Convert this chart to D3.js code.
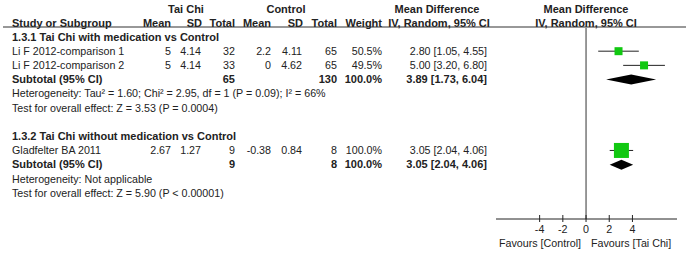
<!DOCTYPE html>
<html>
<head>
<meta charset="utf-8">
<script src="https://cdn.jsdelivr.net/npm/d3@7"></script>
<style>
  body { margin: 0; background: #fff; }
  svg text { font-family: Arial, "Liberation Sans", sans-serif; font-size: 10.7px; fill: #222; }
  .b { font-weight: bold; font-size: 11px; }
</style>
</head>
<body>
<div id="chart"></div>
<script>
// study rows
var studyNames = ["Li F 2012-comparison 1", "Li F 2012-comparison 2", "Gladfelter BA 2011"];
var studyGroup = [0, 0, 1];
var tcMean = ["5", "5", "2.67"];
var tcSD = ["4.14", "4.14", "1.27"];
var tcN = ["32", "33", "9"];
var ctMean = ["2.2", "0", "-0.38"];
var ctSD = ["4.11", "4.62", "0.84"];
var ctN = ["65", "65", "8"];
var weights = ["50.5%", "49.5%", "100.0%"];
var md = [2.80, 5.00, 3.05];
var mdLo = [1.05, 3.20, 2.04];
var mdHi = [4.55, 6.80, 4.06];
var boxSize = [8, 8, 15];

// subgroups
var groupTitles = ["1.3.1 Tai Chi with medication vs Control", "1.3.2 Tai Chi without medication vs Control"];
var subTcN = ["65", "9"];
var subCtN = ["130", "8"];
var subWeight = ["100.0%", "100.0%"];
var subMd = [3.89, 3.05];
var subLo = [1.73, 2.04];
var subHi = [6.04, 4.06];
var heterogeneity = ["Heterogeneity: Tau\u00b2 = 1.60; Chi\u00b2 = 2.95, df = 1 (P = 0.09); I\u00b2 = 66%", "Heterogeneity: Not applicable"];
var overall = ["Test for overall effect: Z = 3.53 (P = 0.0004)", "Test for overall effect: Z = 5.90 (P < 0.00001)"];

var axisTicks = [-4, -2, 0, 2, 4];

var W = 689, H = 253;
var svg = d3.select("#chart").append("svg").attr("width", W).attr("height", H);

var row = d3.scaleLinear().domain([0, 11]).range([37, 193]);
var x = d3.scaleLinear().domain([-7.76, 7.84]).range([496, 677]);

function txt(xp, yp, s, anchor, bold) {
    svg.append("text").attr("x", xp).attr("y", yp).attr("dy", "0.35em")
        .attr("text-anchor", anchor || "start").attr("class", bold ? "b" : null).text(s);
}

// column right edges
var cMean = 171, cSD = 201, cTot = 235, kMean = 271, kSD = 302, kTot = 337, cW = 382, cCI = 487;

// headers
txt(186, 9, "Tai Chi", "middle", true);
txt(286, 9, "Control", "middle", true);
txt(437, 9, "Mean Difference", "middle", true);
txt(586, 9, "Mean Difference", "middle", true);
txt(12, 23, "Study or Subgroup", "start", true);
txt(cMean, 23, "Mean", "end", true);
txt(cSD + 1, 23, "SD", "end", true);
txt(cTot, 23, "Total", "end", true);
txt(kMean, 23, "Mean", "end", true);
txt(kSD + 1, 23, "SD", "end", true);
txt(kTot, 23, "Total", "end", true);
txt(cW, 23, "Weight", "end", true);
txt(439, 23, "IV, Random, 95% CI", "middle", true);
txt(586, 23, "IV, Random, 95% CI", "middle", true);

svg.append("line").attr("x1", 3).attr("x2", 686).attr("y1", 27).attr("y2", 27)
    .attr("stroke", "#333").attr("stroke-width", 1.2);

function fmt(v) { return d3.format(".2f")(v); }

// zero line
svg.append("line").attr("x1", x(0)).attr("x2", x(0)).attr("y1", 28).attr("y2", 219)
    .attr("stroke", "#333").attr("stroke-width", 1);

var groupStart = [0, 7];
groupTitles.forEach(function(g, gi) {
    var r0 = groupStart[gi];
    txt(12, row(r0), g, "start", true);
    var idx = d3.range(studyNames.length).filter(function(i) { return studyGroup[i] === gi; });
    idx.forEach(function(i, k) {
        var yy = row(r0 + 1 + k);
        txt(12, yy, studyNames[i]);
        txt(cMean, yy, tcMean[i], "end");
        txt(cSD, yy, tcSD[i], "end");
        txt(cTot, yy, tcN[i], "end");
        txt(kMean, yy, ctMean[i], "end");
        txt(kSD, yy, ctSD[i], "end");
        txt(kTot, yy, ctN[i], "end");
        txt(cW, yy, weights[i], "end");
        txt(cCI, yy, fmt(md[i]) + " [" + fmt(mdLo[i]) + ", " + fmt(mdHi[i]) + "]", "end");
        svg.append("line").attr("x1", x(mdLo[i])).attr("x2", x(mdHi[i])).attr("y1", yy).attr("y2", yy)
            .attr("stroke", "#222").attr("stroke-width", 1);
        svg.append("rect").attr("x", x(md[i]) - boxSize[i] / 2).attr("y", yy - boxSize[i] / 2)
            .attr("width", boxSize[i]).attr("height", boxSize[i]).attr("fill", "#11c811");
    });
    var ys = row(r0 + 1 + idx.length);
    txt(12, ys, "Subtotal (95% CI)", "start", true);
    txt(cTot, ys, subTcN[gi], "end", true);
    txt(kTot, ys, subCtN[gi], "end", true);
    txt(cW, ys, subWeight[gi], "end", true);
    txt(cCI, ys, fmt(subMd[gi]) + " [" + fmt(subLo[gi]) + ", " + fmt(subHi[gi]) + "]", "end", true);
    svg.append("path")
        .attr("d", "M" + x(subLo[gi]) + "," + ys + "L" + x(subMd[gi]) + "," + (ys - 5) +
            "L" + x(subHi[gi]) + "," + ys + "L" + x(subMd[gi]) + "," + (ys + 5) + "Z")
        .attr("fill", "#000");
    txt(12, row(r0 + 2 + idx.length), heterogeneity[gi]);
    txt(12, row(r0 + 3 + idx.length), overall[gi]);
});

// bottom axis
var ax = svg.append("g").attr("transform", "translate(0,219)");
ax.append("line").attr("x1", x.range()[0]).attr("x2", x.range()[1]).attr("y1", 0).attr("y2", 0)
    .attr("stroke", "#222").attr("stroke-width", 1);
axisTicks.forEach(function(t) {
    ax.append("line").attr("x1", x(t)).attr("x2", x(t)).attr("y1", -4).attr("y2", 3)
        .attr("stroke", "#222").attr("stroke-width", 1);
    txt(x(t), 229, d3.format("")(t).replace("\u2212", "-"), "middle");
});
txt(581, 243, "Favours [Control]", "end");
txt(591, 243, "Favours [Tai Chi]", "start");
</script>
</body>
</html>
